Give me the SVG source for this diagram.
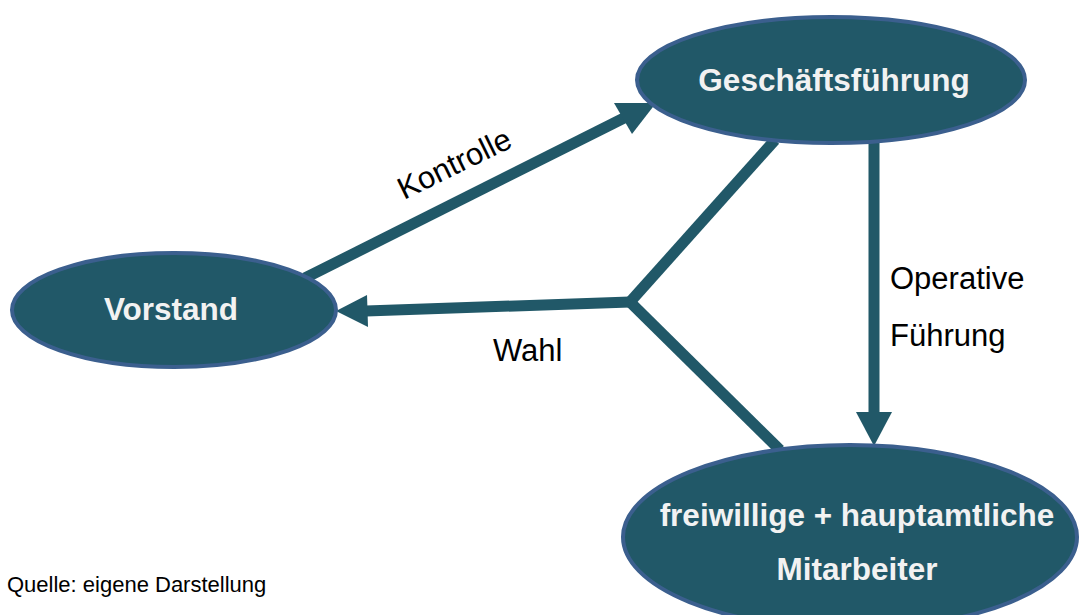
<svg xmlns="http://www.w3.org/2000/svg" width="1079" height="615" viewBox="0 0 1079 615">
<style>
.node{fill:#215868;stroke:#3b5f8e;stroke-width:4}
.nt{fill:#f2f2f2;font-family:"Liberation Sans",Arial,sans-serif;font-weight:bold;font-size:31.5px;text-anchor:middle}
.lbl{fill:#000;font-family:"Liberation Sans",Arial,sans-serif;font-size:31px}
.ln{stroke:#215868;stroke-width:11;fill:none}
.ah{fill:#215868}
</style>
<g id="connectors">
<line class="ln" x1="305" y1="278" x2="628" y2="116"/>
<polygon class="ah" points="656,103 614,103 632,134"/>
<line class="ln" x1="775" y1="140" x2="630" y2="302"/>
<line class="ln" x1="630" y1="302" x2="780" y2="450"/>
<line class="ln" x1="630" y1="302" x2="366" y2="311"/>
<polygon class="ah" points="336,311 367,295 368,327"/>
<line class="ln" x1="874" y1="138" x2="874" y2="414"/>
<polygon class="ah" points="856,412 892,412 874,446"/>
</g>
<g id="vorstand">
<ellipse class="node" cx="174" cy="310" rx="162" ry="57"/>
<text class="nt" x="171" y="320">Vorstand</text>
</g>
<g id="geschaeftsfuehrung">
<ellipse class="node" cx="831" cy="80" rx="194" ry="63"/>
<text class="nt" x="834" y="91">Geschäftsführung</text>
</g>
<g id="mitarbeiter">
<ellipse class="node" cx="850" cy="537" rx="227" ry="92"/>
<text class="nt" x="857" y="526">freiwillige + hauptamtliche</text>
<text class="nt" x="857" y="580">Mitarbeiter</text>
</g>
<text class="lbl" transform="translate(404,200) rotate(-26)" style="font-size:31px">Kontrolle</text>
<text class="lbl" x="493" y="361">Wahl</text>
<text class="lbl" x="890" y="289">Operative</text>
<text class="lbl" x="890" y="346">Führung</text>
<text class="lbl" x="7" y="592" style="font-size:22px">Quelle: eigene Darstellung</text>
</svg>
